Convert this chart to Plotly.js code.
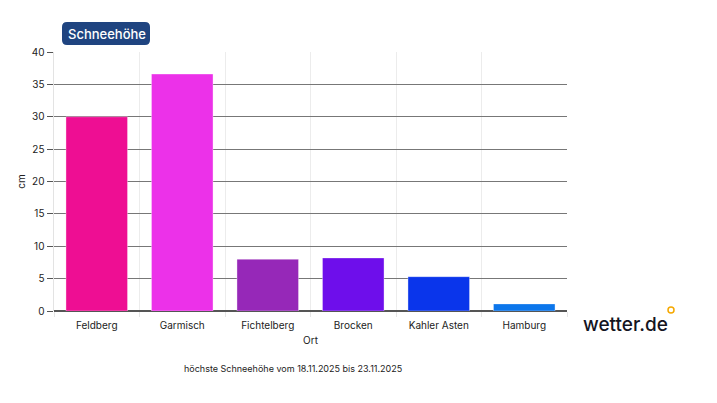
<!DOCTYPE html>
<html><head><meta charset="utf-8">
<script src="https://cdn.plot.ly/plotly-3.0.1.min.js"></script>
<style>body{margin:0;background:#fff}#chart{width:717px;height:403px}</style>
</head><body><div id="chart"></div>
<script>
const orte = ["Feldberg", "Garmisch", "Fichtelberg", "Brocken", "Kahler Asten", "Hamburg"];
const schneehoehe = [30.0, 36.6, 8.0, 8.2, 5.3, 1.1];
const farben = ["#EE0E93", "#EC31E9", "#9628B8", "#6E0EEB", "#0A35EB", "#0C76EB"];
const titel = "Schneehöhe";
const untertitel = "höchste Schneehöhe vom 18.11.2025 bis 23.11.2025";

const font = "Inter, 'Open Sans', sans-serif";
const data = [{
  type: "bar",
  x: orte,
  y: schneehoehe,
  marker: {color: farben, line: {color: "rgba(255,255,255,0.35)", width: 1}},
  hoverinfo: "x+y"
}];
const layout = {
  width: 717, height: 403,
  margin: {l: 54, r: 150, t: 52, b: 92},
  paper_bgcolor: "#fff", plot_bgcolor: "#fff",
  font: {family: font, size: 10, color: "#222"},
  showlegend: false,
  bargap: 0.28,
  xaxis: {
    title: {text: "Ort", font: {size: 10, color: "#222"}, standoff: 6},
    tickson: "boundaries", ticks: "outside", ticklen: 5, tickcolor: "#e6e6e6",
    ticklabelstandoff: 7,
    showgrid: true, gridcolor: "#ececec", gridwidth: 1,
    showline: false, tickfont: {size: 10, color: "#222"}, fixedrange: true
  },
  yaxis: {
    title: {text: "cm", font: {size: 10, color: "#222"}, standoff: 4},
    range: [0, 40], dtick: 5, ticks: "outside", ticklen: 6, tickcolor: "#555",
    showgrid: true, gridcolor: "#777", gridwidth: 1,
    zeroline: true, zerolinecolor: "#555", zerolinewidth: 1.5,
    showline: true, linecolor: "#e3e3e3", linewidth: 1.5,
    tickfont: {size: 10, color: "#222"}, fixedrange: true
  },
  shapes: [
    {type: "path", xref: "paper", yref: "paper",
     path: roundRect(62, 22, 150, 45, 5),
     fillcolor: "#1F4480", line: {width: 0}, layer: "above"},
    {type: "circle", xref: "paper", yref: "paper",
     x0: px(668), x1: px(674), y0: py(313), y1: py(307),
     line: {color: "#F5A800", width: 1.5}, fillcolor: "rgba(0,0,0,0)"}
  ],
  annotations: [
    {text: titel, xref: "paper", yref: "paper", x: px(107), y: py(33.5),
     xanchor: "center", yanchor: "middle", showarrow: false,
     font: {size: 13, color: "#fff", family: font, weight: 500}},
    {text: "wetter.de", xref: "paper", yref: "paper", x: px(581), y: py(324),
     xanchor: "left", yanchor: "middle", showarrow: false,
     font: {size: 19, color: "#15151f", family: font, weight: 500}},
    {text: untertitel, xref: "paper", yref: "paper", x: px(293), y: py(368),
     xanchor: "center", yanchor: "middle", showarrow: false,
     font: {size: 9, color: "#222", family: font}}
  ]
};
function px(x){ return (x - 54) / (717 - 54 - 150); }
function py(y){ return (311 - y) / (403 - 52 - 92); }
function roundRect(x0, y0, x1, y1, r){
  const X = v => px(v), Y = v => py(v);
  return `M ${X(x0+r)} ${Y(y0)} L ${X(x1-r)} ${Y(y0)} Q ${X(x1)} ${Y(y0)} ${X(x1)} ${Y(y0+r)} ` +
         `L ${X(x1)} ${Y(y1-r)} Q ${X(x1)} ${Y(y1)} ${X(x1-r)} ${Y(y1)} ` +
         `L ${X(x0+r)} ${Y(y1)} Q ${X(x0)} ${Y(y1)} ${X(x0)} ${Y(y1-r)} ` +
         `L ${X(x0)} ${Y(y0+r)} Q ${X(x0)} ${Y(y0)} ${X(x0+r)} ${Y(y0)} Z`;
}
Plotly.newPlot("chart", data, layout, {displayModeBar: false, staticPlot: true});
</script></body></html>
